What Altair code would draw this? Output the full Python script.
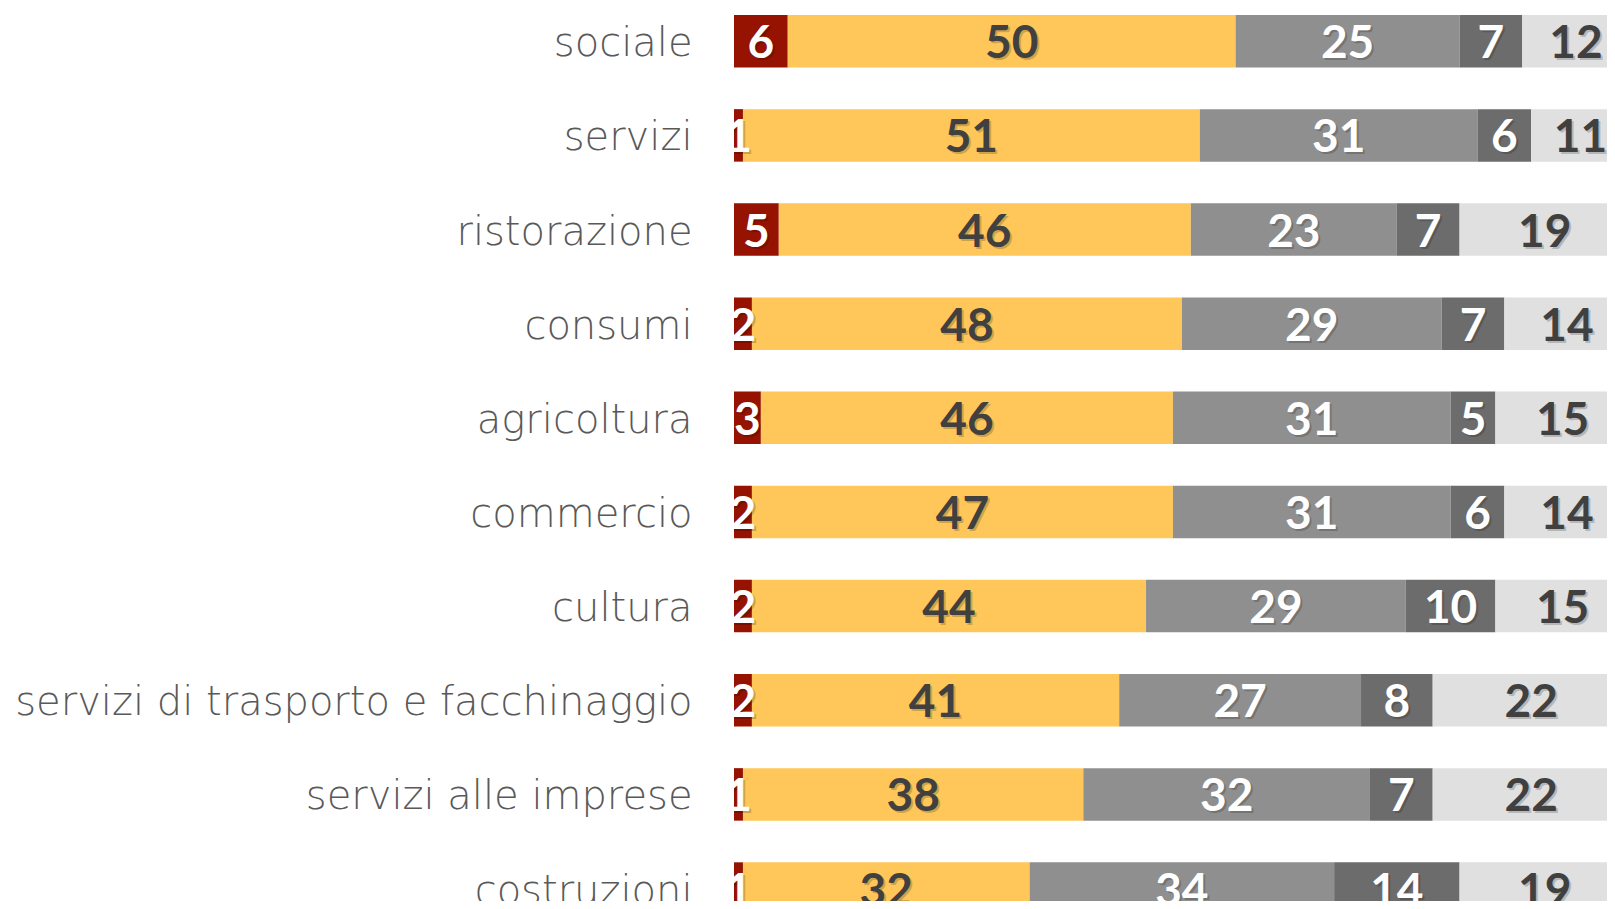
import altair as alt
import pandas as pd

categories = [
    "sociale",
    "servizi",
    "ristorazione",
    "consumi",
    "agricoltura",
    "commercio",
    "cultura",
    "servizi di trasporto e facchinaggio",
    "servizi alle imprese",
    "costruzioni",
]
series = ["s1", "s2", "s3", "s4", "s5"]
s1 = [6, 1, 5, 2, 3, 2, 2, 2, 1, 1]
s2 = [50, 51, 46, 48, 46, 47, 44, 41, 38, 32]
s3 = [25, 31, 23, 29, 31, 31, 29, 27, 32, 34]
s4 = [7, 6, 7, 7, 5, 6, 10, 8, 7, 14]
s5 = [12, 11, 19, 14, 15, 14, 15, 22, 22, 19]

bar_colors = ["#951300", "#FFC759", "#8F8F8F", "#6C6C6C", "#E0E0E0"]
text_colors = ["#FFFFFF", "#404040", "#FFFFFF", "#FFFFFF", "#404040"]

rows = []
for si, (name, vals) in enumerate(zip(series, [s1, s2, s3, s4, s5])):
    for cat, v in zip(categories, vals):
        rows.append({"category": cat, "series": name, "value": v, "ord": si})
df = pd.DataFrame(rows)

xscale = alt.Scale(domain=[0, 97.46], nice=False, zero=False)
yscale = alt.Scale(domain=categories, range=[7, 906.8], paddingInner=0.4423, paddingOuter=0)

yenc = alt.Y(
    "category:N",
    sort=categories,
    scale=yscale,
    title=None,
    axis=alt.Axis(
        domain=False,
        ticks=False,
        labelFont="DejaVu Sans",
        labelFontWeight=200,
        labelFontSize=40,
        labelColor="#595959",
        labelPadding=42,
        labelOffset=3,
        labelLimit=2000,
    ),
)

bars = alt.Chart(df).mark_bar(clip=True).encode(
    y=yenc,
    x=alt.X("value:Q", stack="zero", scale=xscale, axis=None),
    color=alt.Color("series:N", scale=alt.Scale(domain=series, range=bar_colors), legend=None),
    order=alt.Order("ord:Q"),
)

base_text = (
    alt.Chart(df)
    .transform_stack(
        stack="value",
        groupby=["category"],
        as_=["x0", "x1"],
        sort=[alt.SortField("ord", order="ascending")],
    )
    .transform_calculate(mid="(datum.x0 + datum.x1) / 2")
)

shadow = base_text.mark_text(
    font="Lato", fontWeight="bold", fontSize=46, baseline="middle", align="center",
    dx=2, dy=5, color="#000000", opacity=0.18, clip=True,
).encode(
    y=yenc,
    x=alt.X("mid:Q", scale=xscale, axis=None),
    text="value:Q",
)

labels = base_text.mark_text(
    font="Lato", fontWeight="bold", fontSize=46, baseline="middle", align="center",
    dy=3, clip=True,
).encode(
    y=yenc,
    x=alt.X("mid:Q", scale=xscale, axis=None),
    text="value:Q",
    color=alt.Color("series:N", scale=alt.Scale(domain=series, range=text_colors), legend=None),
)

chart = (
    alt.layer(bars, shadow, labels)
    .resolve_scale(color="independent")
    .properties(
        width=873,
        height=893,
        autosize=alt.AutoSizeParams(type="none"),
        padding={"left": 726, "top": 0, "right": 0, "bottom": 0},
    )
    .configure_view(strokeWidth=0)
)

chart.save("out.html", embed_options={"renderer": "svg", "actions": False})
